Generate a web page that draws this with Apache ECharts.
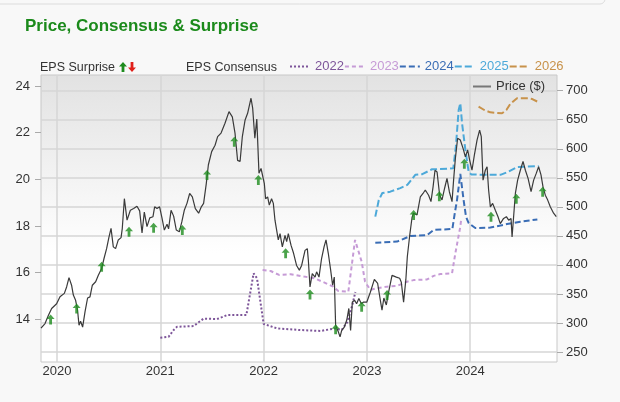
<!DOCTYPE html>
<html>
<head>
<meta charset="utf-8">
<script src="https://cdn.jsdelivr.net/npm/echarts@6/dist/echarts.min.js"></script>
<style>
  html, body { margin: 0; padding: 0; background: #f8f8f8; }
  #chart { width: 620px; height: 402px; }
</style>
</head>
<body>
<div id="chart"></div>
<script>
// dates are decimal years
const yearTicks = [2020, 2021, 2022, 2023, 2024];
const epsTicks = [14, 16, 18, 20, 22, 24];
const priceTicks = [250, 300, 350, 400, 450, 500, 550, 600, 650, 700];

const price = [
  [2019.845,291],[2019.884,299],[2019.916,313],[2019.948,325],[2019.996,333],[2020.029,345],[2020.071,351],
  [2020.093,362],[2020.116,378],[2020.141,365],[2020.158,348],[2020.180,339],[2020.199,322],[2020.213,296],
  [2020.228,303],[2020.248,293],[2020.271,319],[2020.296,343],[2020.319,345],[2020.342,365],[2020.374,371],
  [2020.400,382],[2020.432,394],[2020.455,411],[2020.480,428],[2020.503,448],[2020.523,463],[2020.545,431],
  [2020.567,428],[2020.593,443],[2020.620,447],[2020.632,463],[2020.652,514],[2020.678,477],[2020.710,494],
  [2020.742,497],[2020.774,501],[2020.800,493],[2020.823,455],[2020.845,491],[2020.871,466],[2020.898,481],
  [2020.929,483],[2020.945,500],[2020.968,497],[2020.993,500],[2021.016,481],[2021.039,460],[2021.065,470],
  [2021.080,462],[2021.104,494],[2021.129,484],[2021.155,460],[2021.184,457],[2021.208,474],[2021.232,494],
  [2021.258,506],[2021.284,523],[2021.310,517],[2021.339,497],[2021.371,489],[2021.397,500],[2021.419,506],
  [2021.445,540],[2021.465,572],[2021.497,595],[2021.530,606],[2021.555,621],[2021.588,627],[2021.626,644],
  [2021.665,664],[2021.697,655],[2021.723,627],[2021.748,580],[2021.772,578],[2021.794,621],[2021.820,649],
  [2021.845,661],[2021.862,663],[2021.878,687],[2021.894,670],[2021.915,618],[2021.934,651],[2021.955,558],
  [2021.975,566],[2021.990,563],[2022.007,540],[2022.019,514],[2022.039,517],[2022.055,503],[2022.077,514],
  [2022.094,506],[2022.110,477],[2022.126,460],[2022.142,443],[2022.159,454],[2022.181,431],[2022.207,451],
  [2022.223,440],[2022.239,454],[2022.265,434],[2022.290,420],[2022.319,399],[2022.346,391],[2022.368,399],
  [2022.401,425],[2022.423,428],[2022.433,408],[2022.449,362],[2022.471,385],[2022.498,379],[2022.513,388],
  [2022.536,379],[2022.561,411],[2022.585,431],[2022.604,443],[2022.626,420],[2022.649,391],[2022.668,365],
  [2022.684,379],[2022.697,296],[2022.723,285],[2022.740,276],[2022.755,287],[2022.781,293],[2022.805,305],
  [2022.825,325],[2022.842,287],[2022.859,336],[2022.881,339],[2022.900,333],[2022.922,342],[2022.946,333],
  [2022.968,336],[2022.999,336],[2023.033,353],[2023.072,375],[2023.104,368],[2023.130,339],[2023.146,322],
  [2023.164,343],[2023.188,331],[2023.210,353],[2023.243,382],[2023.285,379],[2023.317,377],[2023.333,370],
  [2023.355,336],[2023.377,375],[2023.391,414],[2023.413,449],[2023.437,482],[2023.452,489],[2023.485,486],
  [2023.517,517],[2023.543,523],[2023.565,529],[2023.597,520],[2023.620,509],[2023.640,534],[2023.659,563],
  [2023.679,560],[2023.704,520],[2023.727,512],[2023.752,532],[2023.775,549],[2023.798,526],[2023.824,509],
  [2023.839,546],[2023.856,583],[2023.878,618],[2023.904,615],[2023.930,601],[2023.953,586],[2023.975,598],
  [2023.994,581],[2024.017,563],[2024.040,589],[2024.066,615],[2024.091,632],[2024.107,621],[2024.124,546],
  [2024.146,563],[2024.163,569],[2024.178,529],[2024.195,500],[2024.217,506],[2024.243,494],[2024.269,483],
  [2024.291,471],[2024.323,480],[2024.350,483],[2024.372,477],[2024.395,480],[2024.405,448],[2024.420,483],
  [2024.437,523],[2024.459,546],[2024.485,563],[2024.511,578],[2024.534,563],[2024.560,549],[2024.589,526],
  [2024.614,546],[2024.640,558],[2024.662,569],[2024.685,555],[2024.705,534],[2024.727,520],[2024.749,512],
  [2024.775,500],[2024.807,489],[2024.833,483]
];

// EPS consensus by fiscal year
const eps2022 = [
  [2021.000,13.21],[2021.080,13.25],[2021.129,13.54],[2021.162,13.68],[2021.322,13.71],[2021.419,14.03],
  [2021.549,14.01],[2021.646,14.18],[2021.833,14.18],[2021.903,15.97],[2021.936,15.76],[2022.000,13.80],
  [2022.130,13.61],[2022.355,13.54],[2022.549,13.50],[2022.691,13.61],[2022.755,13.54],[2022.810,13.88],
  [2022.859,14.61],[2022.888,15.17]
];
const eps2023 = [
  [2021.990,16.11],[2022.068,16.07],[2022.150,15.90],[2022.262,15.93],[2022.392,15.83],[2022.490,15.76],
  [2022.570,15.61],[2022.675,15.40],[2022.723,15.21],[2022.820,15.18],[2022.885,17.40],[2022.949,16.47],
  [2022.982,15.61],[2023.033,15.26],[2023.098,15.33],[2023.195,15.40],[2023.291,15.43],[2023.388,15.61],
  [2023.452,15.68],[2023.582,15.71],[2023.646,15.86],[2023.711,15.94],[2023.824,15.97],[2023.856,16.83],
  [2023.904,17.97],[2023.914,18.34]
];
const eps2024 = [
  [2023.081,17.28],[2023.291,17.33],[2023.420,17.57],[2023.582,17.61],[2023.646,17.83],[2023.827,17.87],
  [2023.851,18.56],[2023.872,19.11],[2023.904,20.23],[2023.936,19.11],[2023.959,18.40],[2023.985,18.12],
  [2024.049,17.91],[2024.195,17.93],[2024.356,18.08],[2024.485,18.18],[2024.650,18.28]
];
const eps2025 = [
  [2023.081,18.40],[2023.115,19.11],[2023.149,19.41],[2023.226,19.47],[2023.323,19.62],[2023.391,19.76],
  [2023.468,20.19],[2023.536,20.22],[2023.630,20.43],[2023.711,20.44],[2023.836,20.47],[2023.861,21.40],
  [2023.888,22.97],[2023.904,23.26],[2023.921,22.40],[2023.953,21.26],[2023.985,20.31],[2024.011,20.21],
  [2024.166,20.19],[2024.292,20.19],[2024.372,20.33],[2024.453,20.52],[2024.533,20.54],[2024.662,20.57]
];
const eps2026 = [
  [2024.081,23.11],[2024.136,22.97],[2024.194,22.87],[2024.308,22.83],[2024.350,22.97],[2024.388,23.23],
  [2024.453,23.47],[2024.565,23.47],[2024.601,23.44],[2024.650,23.33]
];

// EPS surprise markers (all positive), placed on the price
const surprise = [
  [2019.938,306],[2020.190,325],[2020.432,397],[2020.697,457],[2020.935,464],[2021.213,460],[2021.452,555],
  [2021.716,612],[2021.949,546],[2022.213,420],[2022.449,349],[2022.697,289],[2022.949,328],[2023.195,348],
  [2023.452,486],[2023.701,518],[2023.943,574],[2024.201,483],[2024.446,514],[2024.701,526]
];

const FONT = '"Liberation Sans", Arial, sans-serif';
const upArrow = 'path://M4,0 L8,4.5 L5.4,4.5 L5.4,10 L2.6,10 L2.6,4.5 L0,4.5 Z';
const upPts = [[4,0],[8,4.5],[5.4,4.5],[5.4,10],[2.6,10],[2.6,4.5],[0,4.5]];
const downPts = upPts.map(p => [p[0], 10 - p[1]]);

const cols = {
  '2022': '#7d5599', '2023': '#c69bd6', '2024': '#3a6db5', '2025': '#4da9d9', '2026': '#c8924a'
};

const chart = echarts.init(document.getElementById('chart'));

function epsLine(name, data, type) {
  return {
    name: name, type: 'line', yAxisIndex: 0, data: data, showSymbol: false, symbol: 'none',
    lineStyle: { color: cols[name], width: 2, type: type }, itemStyle: { color: cols[name] },
    z: 2, silent: true
  };
}

chart.setOption({
  animation: false,
  backgroundColor: '#f8f8f8',
  textStyle: { fontFamily: FONT },
  graphic: [
    { type: 'rect', shape: { x: -10, y: -20, width: 615, height: 24, r: 5 },
      style: { fill: '#f8f8f8', stroke: '#dcdcdc', lineWidth: 1 } },
    { type: 'text', x: 25, y: 18,
      style: { text: 'Price, Consensus & Surprise', fill: '#1b8a1b', font: 'bold 17px ' + FONT } },
    { type: 'text', x: 40, y: 61,
      style: { text: 'EPS Surprise', fill: '#333', font: '12.5px ' + FONT } },
    { type: 'polygon', shape: { points: upPts }, x: 119, y: 62, style: { fill: '#1e8c1e' } },
    { type: 'polygon', shape: { points: downPts }, x: 128, y: 62, style: { fill: '#e0201a' } },
    { type: 'text', x: 186, y: 61,
      style: { text: 'EPS Consensus', fill: '#333', font: '12.5px ' + FONT } }
  ],
  legend: [
    {
      left: 289, top: 60, itemWidth: 20, itemHeight: 10, itemGap: 0, padding: 0,
      selectedMode: false, itemStyle: { opacity: 0 },
      textStyle: { fontSize: 13, fontFamily: FONT },
      data: ['2022', '2023', '2024', '2025', '2026'].map(n => ({ name: n, textStyle: { color: cols[n] } }))
    },
    {
      left: 472, top: 80, itemWidth: 18, itemHeight: 10, padding: 0, selectedMode: false,
      itemStyle: { opacity: 0 }, lineStyle: { color: '#777', width: 2 },
      textStyle: { fontSize: 13, color: '#333', fontFamily: FONT },
      data: ['Price ($)']
    }
  ],
  grid: {
    left: 41, top: 75, width: 516, height: 287, show: true, borderColor: '#c8c8c8', borderWidth: 1,
    backgroundColor: new echarts.graphic.LinearGradient(0, 0, 0, 1, [
      { offset: 0, color: '#e2e2e2' }, { offset: 0.62, color: '#ffffff' }, { offset: 1, color: '#ffffff' }
    ])
  },
  xAxis: {
    type: 'value', min: 2019.845, max: 2024.84,
    axisLine: { show: false },
    axisTick: { show: false, customValues: yearTicks },
    axisLabel: { customValues: yearTicks, formatter: v => String(v), color: '#333', fontSize: 13, margin: 3 },
    splitLine: { show: true, lineStyle: { color: '#d6d6d6', width: 1.5 } }
  },
  yAxis: [
    {
      type: 'value', position: 'left', min: 12.17, max: 24.47,
      axisLine: { show: false },
      axisTick: { show: true, length: 6, customValues: epsTicks, lineStyle: { color: '#aaa' } },
      axisLabel: { customValues: epsTicks, color: '#333', fontSize: 13, margin: 11 },
      splitLine: { show: false }
    },
    {
      type: 'value', position: 'right', min: 232.8, max: 727,
      axisLine: { show: false },
      axisTick: { show: true, length: 6, customValues: priceTicks, lineStyle: { color: '#aaa' } },
      axisLabel: { customValues: priceTicks, color: '#333', fontSize: 13, margin: 9 },
      splitLine: { show: true, lineStyle: { color: '#d6d6d6', width: 1.5 } }
    }
  ],
  series: [
    epsLine('2022', eps2022, [2, 2]),
    epsLine('2023', eps2023, [4, 3]),
    epsLine('2024', eps2024, [6, 3]),
    epsLine('2025', eps2025, [7, 3]),
    epsLine('2026', eps2026, [7, 3]),
    {
      name: 'Price ($)', type: 'line', yAxisIndex: 1, data: price, showSymbol: false, symbol: 'none',
      lineStyle: { color: '#3a3a3a', width: 1.2 }, itemStyle: { color: '#555' }, z: 3, silent: true
    },
    {
      name: 'EPS Surprise', type: 'scatter', yAxisIndex: 1, data: surprise,
      symbol: upArrow, symbolSize: [8, 10], itemStyle: { color: '#1e8c1e' }, z: 4, silent: true
    }
  ]
});
</script>
</body>
</html>
